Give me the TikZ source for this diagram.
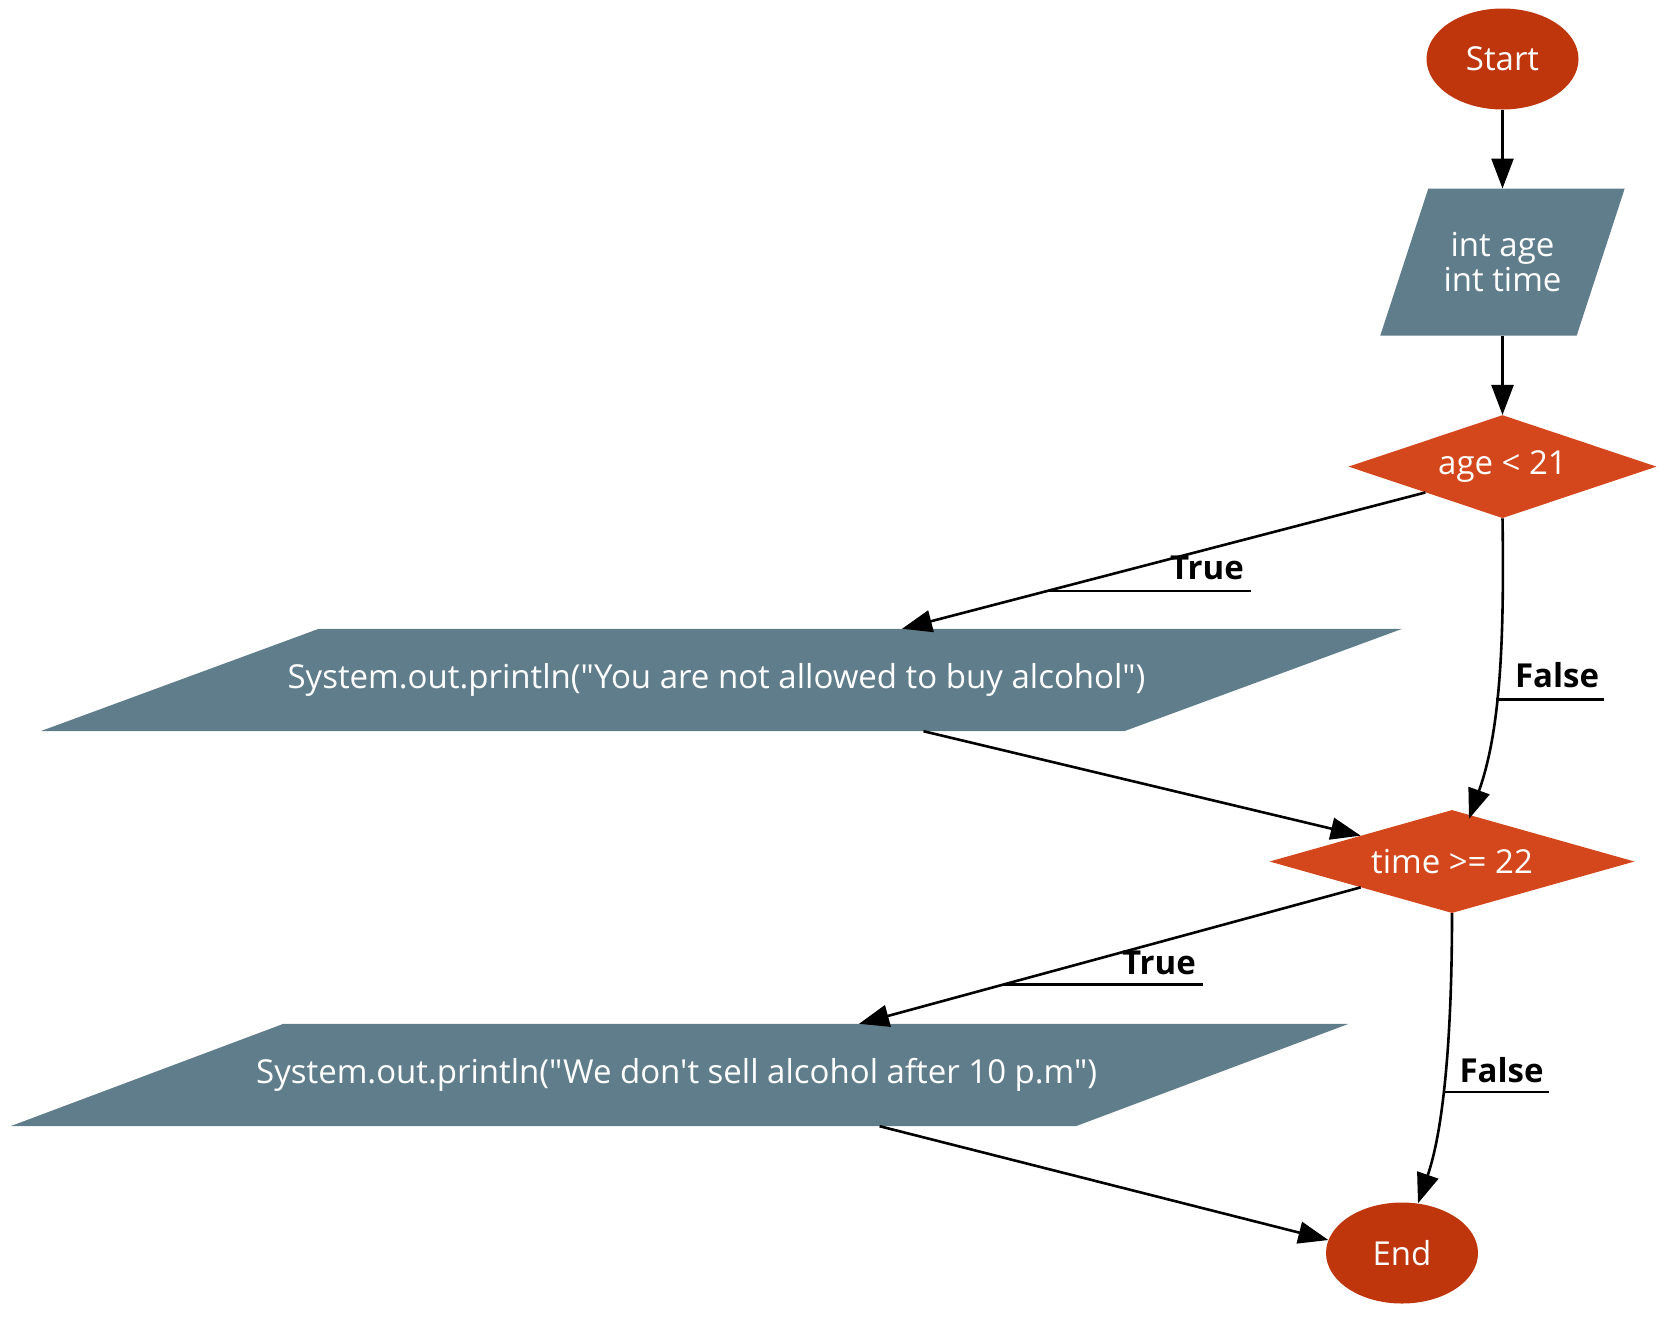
\documentclass[tikz,border=0pt]{standalone}
\usepackage{fontspec}
\setmainfont{Open Sans}[Ligatures=TeXOff]
\usetikzlibrary{shapes.geometric,arrows.meta,calc,backgrounds}
\definecolor{ovalc}{HTML}{BF360C}
\definecolor{diac}{HTML}{D4461C}
\definecolor{parac}{HTML}{607D8B}
\begin{document}
\begin{tikzpicture}[x=1pt,y=-1pt,
  txt/.style={font=\fontsize{33}{35}\selectfont, text=white, align=center, inner sep=0pt},
  oval/.style={txt, ellipse, fill=ovalc, minimum width=152pt, minimum height=101pt},
  dia/.style={txt, diamond, fill=diac, aspect=3},
  core/.style={txt, rectangle},
  arr/.style={line width=2.6pt, -{Triangle[length=30pt,width=22pt]}},
  deco/.style={line width=2.6pt},
  lbl/.style={font=\fontsize{33}{35}\selectfont\bfseries, inner sep=0pt}]
\useasboundingbox (0,0) rectangle (1678,1331);

\node[oval] (start) at (1502.5,59) {Start};
\node[core, minimum width=148pt, minimum height=146.6pt] (inp) at (1502.5,262) {int age\\int time};
\node[dia, minimum width=308pt, minimum height=103pt] (d1) at (1502.5,466.6) {age < 21};
\node[core, minimum width=805pt, minimum height=102pt] (p1) at (721.5,680) {\makebox[0pt][c]{\hspace{-10pt}System.out.println("You are not allowed to buy alcohol")}};
\node[dia, minimum width=365pt, minimum height=103pt] (d2) at (1452,861.5) {time >= 22};
\node[core, minimum width=792pt, minimum height=102pt] (p2) at (679.6,1075) {\makebox[0pt][c]{\hspace{-6pt}System.out.println("We don't sell alcohol after 10 p.m")}};
\node[oval] (end) at (1402,1253) {End};

\begin{scope}[on background layer]
\fill[parac] ($(inp.south west)+(-48,0)$) -- (inp.south east) -- ($(inp.north east)+(48,0)$) -- (inp.north west) -- cycle;
\fill[parac] ($(p1.south west)+(-278.3,0)$) -- (p1.south east) -- ($(p1.north east)+(278,0)$) -- (p1.north west) -- cycle;
\fill[parac] ($(p2.south west)+(-272.9,0)$) -- (p2.south east) -- ($(p2.north east)+(272.9,0)$) -- (p2.north west) -- cycle;
\end{scope}

\draw[arr] (start) -- (inp);
\draw[arr] (inp) -- (d1);

\draw[arr] (d1.south west) -- coordinate[pos=0.722] (m1) ($(p1.north)+(180.5,0)$);
\node[lbl] (t1) at (1207,568) {True};
\draw[deco] (m1) -- ($(m1 -| t1.east)+(7,0)$);

\draw[arr] (d1.south) .. controls ($(d1.south)+(2,130)$) and ($(d1.south)+(-3,215)$) .. coordinate[pos=0.55] (m2) ($(d2.north)+(17,9)$);
\node[lbl] (f1) at (1557,675) {False};
\draw[deco] (m2) -- ($(m2 -| f1.east)+(5,0)$);

\draw[arr] ($(p1.south)+(202,0)$) -- (d2.north west);

\draw[arr] (d2.south west) -- coordinate[pos=0.712] (m3) ($(p2.north)+(179.4,0)$);
\node[lbl] (t2) at (1159,963) {True};
\draw[deco] (m3) -- ($(m3 -| t2.east)+(7,0)$);

\draw[arr] (d2.south) .. controls ($(d2.south)+(0,120)$) and ($(d2.south)+(-8,215)$) .. coordinate[pos=0.56] (m4) ($(end.north)+(16,1)$);
\node[lbl] (f2) at (1501.5,1070) {False};
\draw[deco] (m4) -- ($(m4 -| f2.east)+(5,0)$);

\draw[arr] ($(p2.south)+(200,0)$) -- (end.170);
\end{tikzpicture}
\end{document}
